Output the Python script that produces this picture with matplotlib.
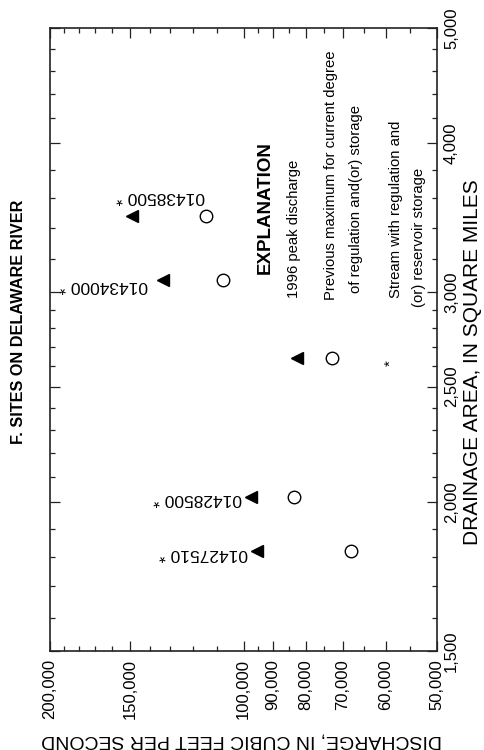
import matplotlib
matplotlib.use("Agg")
import matplotlib.pyplot as plt
from matplotlib.ticker import FixedLocator, FuncFormatter, NullFormatter

plt.rcParams["font.family"] = ["Liberation Sans", "DejaVu Sans"]

# page is printed sideways: discharge runs along the bottom, drainage area up the right side
stations = ["01427510", "01428500", "01434000", "01438500"]
drainage_area = [1820, 2020, 3070, 3480]          # square miles
peak_1996 = [95400, 97500, 133500, 149000]        # cubic feet per second
previous_max = [68100, 83600, 107700, 114500]

discharge_major = [50000, 60000, 70000, 80000, 90000, 100000, 150000, 200000]
discharge_minor = [55000, 65000, 75000, 85000, 95000, 110000, 120000, 130000,
                   140000, 160000, 170000, 180000, 190000]
area_major = [1500, 2000, 2500, 3000, 4000, 5000]
area_minor = [1600, 1700, 1800, 1900, 2100, 2200, 2300, 2400, 2600, 2700, 2800,
              2900, 3200, 3400, 3600, 3800, 4200, 4400, 4600, 4800]

# label offsets from the triangle, in pixels
label_offsets = [(-9, -3), (-9, -2), (-15, -5), (73, 19)]

W, H = 484, 750


def fx(px):
    return px / W


def fy(py):
    return 1 - py / H


fig = plt.figure(figsize=(W / 100, H / 100), dpi=100)
ax = fig.add_axes([fx(50), fy(651), 387 / W, 623 / H])

ax.set_xscale("log")
ax.set_yscale("log")
ax.set_xlim(200000, 50000)
ax.set_ylim(1500, 5000)

comma = FuncFormatter(lambda v, _: f"{v:,.0f}")
ax.xaxis.set_major_locator(FixedLocator(discharge_major))
ax.xaxis.set_minor_locator(FixedLocator(discharge_minor))
ax.xaxis.set_major_formatter(comma)
ax.xaxis.set_minor_formatter(NullFormatter())
ax.yaxis.set_major_locator(FixedLocator(area_major))
ax.yaxis.set_minor_locator(FixedLocator(area_minor))
ax.yaxis.set_major_formatter(comma)
ax.yaxis.set_minor_formatter(NullFormatter())

ax.tick_params(which="both", direction="in", top=True, bottom=True, left=True,
               right=True, width=0.9, color="#222222")
ax.tick_params(which="major", length=7)
ax.tick_params(which="minor", length=3.5)
ax.tick_params(axis="x", labelrotation=90, labelsize=12, pad=6)
ax.tick_params(axis="y", labelleft=False, labelright=True, labelrotation=90,
               labelsize=12, pad=5)
for lbl in ax.get_yticklabels():
    lbl.set_verticalalignment("center")
for sp in ax.spines.values():
    sp.set_linewidth(1.2)
    sp.set_color("#222222")

ax.plot(peak_1996, drainage_area, ls="none", marker="<", ms=9, color="black")
ax.plot(previous_max, drainage_area, ls="none", marker="o", ms=9,
        mfc="white", mec="black", mew=1)

for name, x, y, off in zip(stations, peak_1996, drainage_area, label_offsets):
    ax.annotate(name + " *", (x, y), xytext=off, textcoords="offset pixels",
                rotation=180, ha="right", va="center", fontsize=12.5)

# title and axis labels
fig.text(fx(19), fy(322), "F. SITES ON DELAWARE RIVER", rotation=90,
         ha="center", va="center", fontsize=11.7, fontweight="bold")
fig.text(fx(472), fy(362), "DRAINAGE AREA, IN SQUARE MILES", rotation=90,
         ha="center", va="center", fontsize=15)
fig.text(fx(242), fy(740), "DISCHARGE, IN CUBIC FEET PER SECOND", rotation=180,
         ha="center", va="center", fontsize=14)

# explanation
fig.text(fx(265), fy(208), "EXPLANATION", rotation=90, ha="center", va="center",
         fontsize=13.5, fontweight="bold")
legend_lines = [
    (294, 298, "1996 peak discharge"),
    (331, 300, "Previous maximum for current degree"),
    (356, 293, "of regulation and(or) storage"),
    (396, 298, "Stream with regulation and"),
    (419, 307, "(or) reservoir storage"),
]
for px, py, txt in legend_lines:
    fig.text(fx(px), fy(py), txt, rotation=90, ha="center", va="bottom",
             fontsize=10.7)

fig.lines.append(plt.Line2D([fx(297)], [fy(358)], transform=fig.transFigure,
                            marker="<", ms=9, color="black", ls="none"))
fig.lines.append(plt.Line2D([fx(332)], [fy(358)], transform=fig.transFigure,
                            marker="o", ms=9, mfc="white", mec="black", mew=1,
                            ls="none"))
fig.text(fx(391), fy(363), "*", rotation=90, ha="center", va="center", fontsize=11)

fig.savefig("out.png", dpi=100)
